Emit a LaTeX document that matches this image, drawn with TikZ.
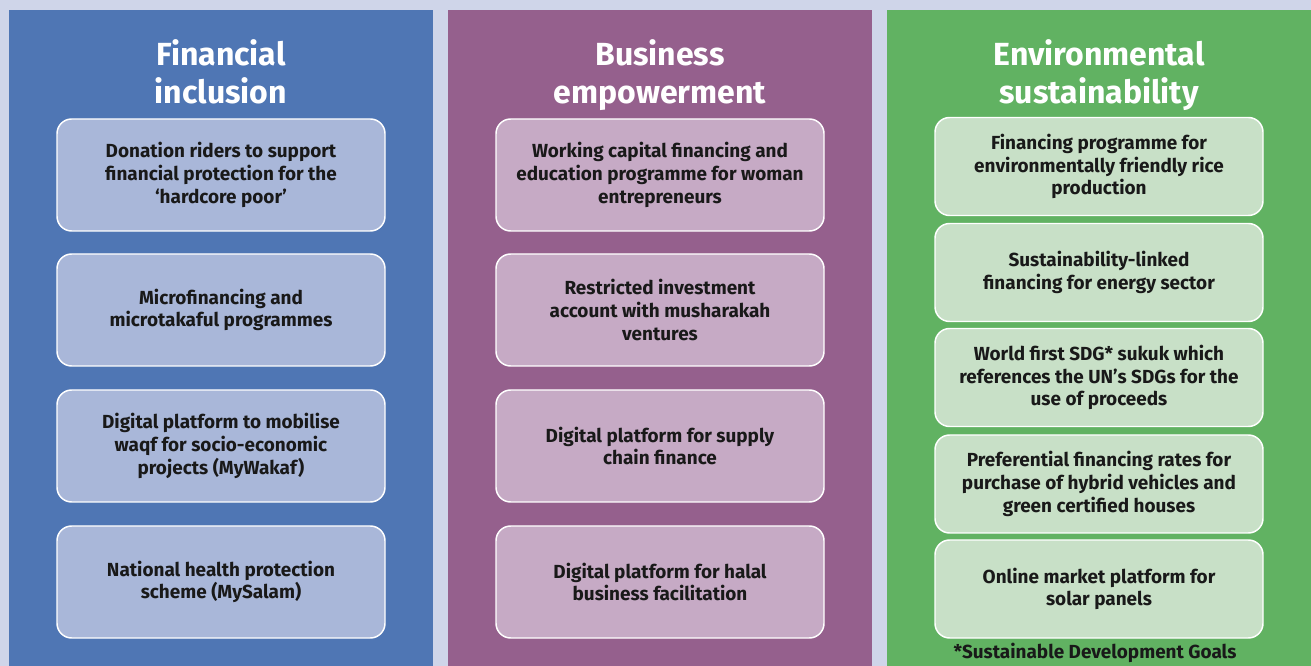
\documentclass[tikz,border=0pt]{standalone}
\usepackage{fontspec}
\setmainfont{Fira Sans}
\usetikzlibrary{positioning}

\definecolor{backlav}{HTML}{CFD5E9}
\definecolor{finblue}{HTML}{4F76B4}
\definecolor{finbox}{HTML}{A9B7D9}
\definecolor{buspurple}{HTML}{95608D}
\definecolor{busbox}{HTML}{C6AAC5}
\definecolor{envgreen}{HTML}{61B262}
\definecolor{envbox}{HTML}{C8E0C7}

\tikzset{
  heading/.style={text=white, font=\fontsize{24}{28.5}\selectfont\bfseries, align=center,
    text depth=5pt},
  item/.style={draw=white, line width=1.1pt, rounded corners=11pt, minimum width=246pt,
    minimum height=84pt, inner sep=0pt, align=center,
    font=\fontsize{14.2}{17.1}\selectfont\bfseries, text=black!90},
  envitem/.style={item, minimum height=73.5pt, fill=envbox}
}

\begin{document}
\begin{tikzpicture}[x=0.75pt,y=-0.75pt]
  \useasboundingbox (0,0) rectangle (1311,666);
  \fill[backlav] (0,0) rectangle (1311,666);
  \fill[finblue] (9,10) rectangle (433,666);
  \fill[buspurple] (448,10) rectangle (872,666);
  \fill[envgreen] (887,10) rectangle (1311,666);

  % financial inclusion
  \node[heading] (fin) at (221,74.5) {Financial\\inclusion};
  \node[item, fill=finbox] (fin1) at (221,175) {Donation riders to support\\financial protection for the\\`hardcore poor'};
  \node[item, fill=finbox] (fin2) at (221,310) {Microfinancing and\\microtakaful programmes};
  \node[item, fill=finbox] (fin3) at (221,446) {Digital platform to mobilise\\waqf for socio-economic\\projects (MyWakaf)};
  \node[item, fill=finbox] (fin4) at (221,582) {National health protection\\scheme (MySalam)};

  % business empowerment
  \node[heading] (bus) at (660,74.5) {Business\\empowerment};
  \node[item, fill=busbox] (bus1) at (660,175) {Working capital financing and\\education programme for woman\\entrepreneurs};
  \node[item, fill=busbox] (bus2) at (660,310) {Restricted investment\\account with musharakah\\ventures};
  \node[item, fill=busbox] (bus3) at (660,446) {Digital platform for supply\\chain finance};
  \node[item, fill=busbox] (bus4) at (660,582) {Digital platform for halal\\business facilitation};

  % environmental sustainability
  \node[heading] (env) at (1099,74.5) {Environmental\\sustainability};
  \node[envitem] (env1) at (1099,166.5) {Financing programme for\\environmentally friendly rice\\production};
  \node[envitem] (env2) at (1099,272.5) {Sustainability-linked\\financing for energy sector};
  \node[envitem] (env3) at (1099,377.5) {World first SDG* sukuk which\\references the UN’s SDGs for the\\use of proceeds};
  \node[envitem] (env4) at (1099,484) {Preferential financing rates for\\purchase of hybrid vehicles and\\green certified houses};
  \node[envitem] (env5) at (1099,589) {Online market platform for\\solar panels};
  \node[font=\fontsize{14.2}{17.1}\selectfont\bfseries, text=black!90] (sdg) at (1095,653) {*Sustainable Development Goals};
\end{tikzpicture}
\end{document}
